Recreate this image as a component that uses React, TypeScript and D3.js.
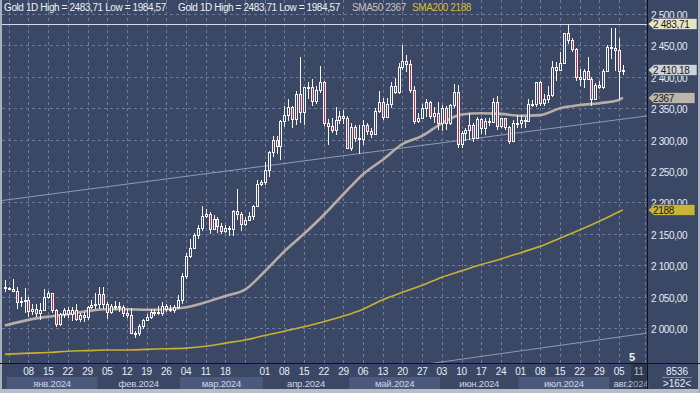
import React from "react";
import * as d3 from "d3";

// ---------- DATA ----------
const firstBar = "2023-12-29";
const lastBar = "2024-08-06";

const opens = [
  2065, 2063, 2062, 2059, 2042, 2043, 2045, 2027, 2030, 2024, 2029, 2049, 2055, 2028, 2006, 2023, 2029, 2022, 2029, 2014, 2020, 2018, 2033, 2037,
  2039, 2054, 2039, 2025, 2035, 2035, 2034, 2024, 2020, 1992, 1992, 2004, 2013, 2018, 2025, 2025, 2024, 2035, 2031, 2029, 2034,
  2044, 2083, 2115, 2128, 2148, 2160, 2179, 2182, 2158, 2174, 2162, 2155, 2160, 2157, 2186, 2181, 2165, 2172, 2179, 2194, 2230,
  2233, 2251, 2280, 2300, 2290, 2330, 2339, 2352, 2333, 2373, 2344, 2383, 2383, 2361, 2379, 2392, 2327, 2322, 2316, 2332, 2337, 2335,
  2286, 2320, 2303, 2301, 2323, 2314, 2309, 2346, 2360, 2336, 2357, 2385, 2376, 2415, 2425, 2420, 2379, 2329, 2334, 2350, 2360, 2338, 2343,
  2327, 2350, 2327, 2355, 2376, 2293, 2311, 2316, 2324, 2303, 2333, 2319, 2329, 2328, 2360, 2322, 2334, 2320, 2298, 2327,
  2326, 2332, 2330, 2356, 2356, 2392, 2359, 2364, 2371, 2415, 2411, 2422, 2469, 2459, 2445, 2400, 2396, 2409, 2397, 2364, 2387, 2384, 2410,
  2447, 2446, 2443, 2409,
];
const highs = [
  2077, 2066, 2078, 2065, 2050, 2064, 2049, 2038, 2038, 2040, 2062, 2059, 2056, 2031, 2024, 2032, 2033, 2034, 2038, 2024, 2025, 2035, 2044, 2055,
  2065, 2066, 2041, 2039, 2043, 2041, 2037, 2031, 2032, 1996, 2006, 2015, 2023, 2031, 2030, 2035, 2041, 2038, 2037, 2036, 2052,
  2088, 2119, 2141, 2152, 2164, 2195, 2189, 2185, 2180, 2176, 2167, 2164, 2163, 2188, 2222, 2184, 2176, 2184, 2196, 2236, 2236,
  2265, 2282, 2305, 2305, 2331, 2354, 2365, 2354, 2378, 2431, 2384, 2392, 2396, 2385, 2417, 2394, 2333, 2335, 2352, 2345, 2347, 2337,
  2326, 2324, 2323, 2331, 2326, 2318, 2351, 2378, 2367, 2366, 2391, 2398, 2422, 2450, 2435, 2427, 2385, 2343, 2357, 2364, 2362, 2352, 2360,
  2355, 2353, 2356, 2388, 2387, 2313, 2319, 2342, 2327, 2336, 2335, 2334, 2334, 2366, 2369, 2335, 2335, 2322, 2331, 2339,
  2339, 2336, 2365, 2363, 2392, 2393, 2372, 2385, 2425, 2424, 2440, 2469, 2483.71, 2462, 2446, 2412, 2412, 2431, 2399, 2390, 2393, 2413,
  2451, 2477, 2477, 2461, 2419,
];
const lows = [
  2058, 2060, 2057, 2030, 2034, 2024, 2017, 2021, 2018, 2013, 2028, 2046, 2024, 2002, 2004, 2016, 2016, 2011, 2011, 2009, 2010, 2012, 2030, 2031,
  2031, 2031, 2015, 2022, 2029, 2026, 2018, 2016, 1990, 1984.57, 1988, 1999, 2012, 2014, 2019, 2020, 2019, 2025, 2025, 2024, 2031,
  2039, 2078, 2112, 2126, 2142, 2154, 2175, 2150, 2156, 2152, 2149, 2152, 2146, 2146, 2172, 2155, 2162, 2170, 2172, 2193, 2226,
  2228, 2240, 2272, 2277, 2268, 2320, 2330, 2319, 2324, 2326, 2324, 2365, 2353, 2357, 2374, 2322, 2292, 2310, 2307, 2325, 2325, 2285,
  2282, 2296, 2277, 2291, 2307, 2303, 2307, 2342, 2332, 2336, 2351, 2373, 2373, 2411, 2407, 2375, 2325, 2326, 2333, 2336, 2333, 2326, 2315,
  2314, 2315, 2323, 2351, 2287, 2287, 2298, 2300, 2296, 2302, 2309, 2308, 2322, 2327, 2316, 2319, 2315, 2293, 2296, 2318,
  2318, 2319, 2328, 2352, 2352, 2353, 2353, 2358, 2368, 2394, 2410, 2421, 2452, 2440, 2393, 2385, 2382, 2398, 2353, 2364, 2380, 2380,
  2407, 2429, 2410, 2364, 2403,
];
const closes = [
  2063, 2062, 2059, 2042, 2043, 2045, 2027, 2030, 2024, 2029, 2049, 2055, 2028, 2006, 2023, 2029, 2022, 2029, 2014, 2020, 2018, 2033, 2037, 2039,
  2054, 2039, 2025, 2035, 2035, 2034, 2024, 2020, 1992, 1992, 2004, 2013, 2018, 2025, 2025, 2024, 2035, 2031, 2029, 2034, 2044,
  2083, 2115, 2128, 2148, 2160, 2179, 2182, 2158, 2174, 2162, 2155, 2160, 2157, 2186, 2181, 2165, 2172, 2179, 2194, 2230, 2233,
  2251, 2280, 2300, 2290, 2330, 2339, 2352, 2333, 2373, 2344, 2383, 2383, 2361, 2379, 2392, 2327, 2322, 2316, 2332, 2337, 2335, 2286,
  2320, 2303, 2301, 2323, 2314, 2309, 2346, 2360, 2336, 2357, 2385, 2376, 2415, 2425, 2420, 2379, 2329, 2334, 2350, 2360, 2338, 2343, 2327,
  2350, 2327, 2355, 2376, 2293, 2311, 2316, 2324, 2303, 2333, 2319, 2329, 2328, 2360, 2322, 2334, 2320, 2298, 2327, 2326,
  2332, 2330, 2356, 2356, 2392, 2359, 2364, 2371, 2415, 2411, 2422, 2469, 2459, 2445, 2400, 2396, 2409, 2397, 2364, 2387, 2384, 2410, 2447,
  2446, 2443, 2409, 2410.18,
];

const smaDates = [
  "2023-12-29", "2024-01-08", "2024-01-15", "2024-01-22", "2024-01-29", "2024-02-05", "2024-02-12", "2024-02-19", "2024-02-26",
  "2024-03-04", "2024-03-11", "2024-03-18", "2024-03-25", "2024-04-01", "2024-04-08", "2024-04-15", "2024-04-22", "2024-04-29",
  "2024-05-06", "2024-05-13", "2024-05-20", "2024-05-27", "2024-06-03", "2024-06-10", "2024-06-17", "2024-06-24", "2024-07-01",
  "2024-07-08", "2024-07-15", "2024-07-22", "2024-07-29", "2024-08-05", "2024-08-06",
];
const sma50Values = [
  2004, 2013, 2018, 2022, 2027, 2030, 2030, 2029, 2030, 2033, 2041, 2051, 2061, 2090, 2122, 2150, 2180, 2213, 2245, 2268, 2293,
  2306, 2326, 2340, 2342, 2341, 2338, 2339, 2350, 2355, 2358, 2363, 2367,
];
const sma200Values = [
  1958, 1960, 1961, 1963, 1964, 1965, 1965, 1966, 1967, 1968, 1971, 1976, 1981, 1988, 1995, 2002, 2010, 2019, 2030, 2045, 2057,
  2068, 2081, 2091, 2101, 2110, 2120, 2130, 2143, 2156, 2170, 2185, 2188,
];

const yTicks = [2000, 2050, 2100, 2150, 2200, 2250, 2300, 2350, 2400, 2450, 2500];
const dayTickDates = [
  "2024-01-08", "2024-01-15", "2024-01-22", "2024-01-29", "2024-02-05", "2024-02-12", "2024-02-19", "2024-02-26",
  "2024-03-04", "2024-03-11", "2024-03-18", "2024-04-01", "2024-04-08", "2024-04-15", "2024-04-22", "2024-04-29",
  "2024-05-06", "2024-05-13", "2024-05-20", "2024-05-27", "2024-06-03", "2024-06-10", "2024-06-17", "2024-06-24",
  "2024-07-01", "2024-07-08", "2024-07-15", "2024-07-22", "2024-07-29", "2024-08-05",
];
const monthLabels = ["янв.2024", "фев.2024", "мар.2024", "апр.2024", "май.2024", "июн.2024", "июл.2024", "авг.2024"];
const monthStarts = ["2024-01-01", "2024-02-01", "2024-03-01", "2024-04-01", "2024-05-01", "2024-06-01", "2024-07-01", "2024-08-01"];
const monthEnds = ["2024-01-31", "2024-02-29", "2024-03-29", "2024-04-30", "2024-05-31", "2024-06-28", "2024-07-31", "2024-08-09"];

const highValue = 2483.71;
const lowValue = 1984.57;
const lastPrice = 2410.18;
const sma50Last = 2367;
const sma200Last = 2188;
// channel lines: [date, price] pairs
const channelUpper = [["2023-12-27", 2202], ["2024-08-12", 2336]];
const channelLower = [["2024-07-08", 1968], ["2024-08-12", 1990]];

// ---------- HELPERS ----------
const parse = (s: string) => new Date(s + "T00:00:00Z");
const BASE = Date.UTC(2024, 0, 1);
function dayIndex(s: string): number {
  const days = Math.round((parse(s).getTime() - BASE) / 86400000);
  const weeks = Math.floor(days / 7);
  const rem = days - weeks * 7;
  return weeks * 5 + Math.min(rem, 5);
}

const tradingDays = d3.utcDay
  .range(parse(firstBar), d3.utcDay.offset(parse(lastBar), 1))
  .filter((d) => d.getUTCDay() !== 0 && d.getUTCDay() !== 6)
  .map((d) => d3.utcFormat("%Y-%m-%d")(d));

const loc = d3.formatLocale({ decimal: ",", thousands: "\u00a0", grouping: [3], currency: ["", ""] });
const fmt2 = loc.format(",.2f");

// ---------- LAYOUT ----------
const W = 700, H = 393;
const PL = 2, PR = 647, PT = 0, PB = 363;
const x = d3.scaleLinear().domain([0, 155]).range([8.8, 619]);
const y = d3.scaleLinear().domain([1944.3, 2522.3]).range([PB, PT]);

const BG = "#3a4866";
const FONT = "'Liberation Sans', Arial, sans-serif";

export default function App() {
  const bars = tradingDays.map((d, i) => ({
    i: dayIndex(d), o: opens[i], h: highs[i], l: lows[i], c: closes[i],
  }));
  const mondays = d3.utcMonday
    .range(parse("2024-01-01"), parse("2024-08-07"))
    .map((d) => d3.utcFormat("%Y-%m-%d")(d));

  const smaLine = d3.line<number>()
    .x((_, k) => x(dayIndex(smaDates[k])))
    .y((v) => y(v))
    .curve(d3.curveMonotoneX);
  const chan = (pts: any[]) => {
    const x0 = x(dayIndex(pts[0][0])), x1 = x(dayIndex(pts[1][0]));
    const y0 = y(pts[0][1]), y1 = y(pts[1][1]);
    const s = (y1 - y0) / (x1 - x0);
    // extend through the plot width
    return `M${PL - 10},${y0 + s * (PL - 10 - x0)}L${PR + 10},${y0 + s * (PR + 10 - x0)}`;
  };

  const px = (v: number) => Math.round(v) + 0.5;

  const tag = (v: number, label: string, fill: string, right = 697) => {
    const cy = Math.round(y(v));
    const pts = [[648, cy], [654, cy - 5.5], [right, cy - 5.5], [right, cy + 5.5], [654, cy + 5.5]];
    return (
      <g key={label}>
        <polygon points={pts.map((p) => p.join(",")).join(" ")} fill={fill} stroke="#2a3348" strokeWidth={0.5} />
        <text x={653} y={cy + 3.6} fontSize={10} fill="#1a1a1a" letterSpacing={-0.3}>{label}</text>
      </g>
    );
  };

  return (
    <div style={{ position: "fixed", left: 0, top: 0 }}>
      <svg width={W} height={H} style={{ display: "block", fontFamily: FONT }}>
        <defs>
          <clipPath id="plot"><rect x={PL} y={PT} width={PR - PL} height={PB - PT} /></clipPath>
        </defs>
        <rect x={0} y={0} width={W} height={H} fill={BG} />
        {/* outer frame */}
        <rect x={0} y={0} width={2} height={H} fill="#a8b0c0" />
        <rect x={0} y={389} width={W} height={4} fill="#b8bec8" />
        <rect x={698} y={0} width={2} height={H} fill="#a8b0c0" />

        {/* grid */}
        <g stroke="#6b7a9a" strokeWidth={1} strokeDasharray="3,3">
          {yTicks.map((t) => (
            <line key={t} x1={PL} x2={PR} y1={px(y(t))} y2={px(y(t))} />
          ))}
          {mondays.map((m) => (
            <line key={m} x1={px(x(dayIndex(m)))} x2={px(x(dayIndex(m)))} y1={PT} y2={PB} />
          ))}
          <line x1={px(x(161.5))} x2={px(x(161.5))} y1={PT} y2={PB} />
        </g>

        <g clipPath="url(#plot)">
          {/* channel lines */}
          <path d={chan(channelUpper)} stroke="#8f9ab4" strokeWidth={1} fill="none" />
          <path d={chan(channelLower)} stroke="#8f9ab4" strokeWidth={1} fill="none" />
          {/* high line */}
          <line x1={PL} x2={PR} y1={px(y(highValue))} y2={px(y(highValue))} stroke="#d6dae6" strokeWidth={1} />
          {/* SMA200 */}
          <path d={smaLine(sma200Values) || ""} stroke="#c9b032" strokeWidth={1.6} fill="none" />
          {/* SMA50 */}
          <path d={smaLine(sma50Values) || ""} stroke="#b5ada6" strokeWidth={2.6} fill="none" />
          {/* candles */}
          {bars.map((b, k) => {
            const cx = Math.round(x(b.i));
            const yo = Math.round(y(b.o)), yc = Math.round(y(b.c));
            const top = Math.min(yo, yc), hgt = Math.max(1, Math.abs(yo - yc));
            const bear = b.c < b.o;
            return (
              <g key={k}>
                <line x1={cx + 0.5} x2={cx + 0.5} y1={Math.round(y(b.h))} y2={Math.round(y(b.l))} stroke="#f4f4f4" strokeWidth={1} />
                <rect x={cx - 0.5} y={top + 0.5} width={2} height={hgt} fill={bear ? "#b8304e" : BG} stroke="#f4f4f4" strokeWidth={1} shapeRendering="crispEdges" />
              </g>
            );
          })}
        </g>

        {/* legend */}
        <g fontSize={10} letterSpacing={-0.4}>
          <text x={4} y={11} fill="#eef0f6">{`Gold 1D High = ${String(highValue).replace(".", ",")} Low = ${String(lowValue).replace(".", ",")}`}</text>
          <text x={178} y={11} fill="#eef0f6">{`Gold 1D High = ${String(highValue).replace(".", ",")} Low = ${String(lowValue).replace(".", ",")}`}</text>
          <text x={352} y={11} fill="#c9c2ba">{`SMA50 ${sma50Last}`}</text>
          <text x={412} y={11} fill="#d8bc3a">{`SMA200 ${sma200Last}`}</text>
        </g>

        {/* right axis */}
        <rect x={PR} y={0} width={1} height={PB} fill="#0e121c" />
        <g fontSize={10} fill="#e6eaf2" letterSpacing={-0.35}>
          {yTicks.map((t) => (
            <text key={t} x={651} y={Math.round(y(t)) + 4.5}>{fmt2(t)}</text>
          ))}
        </g>
        {tag(highValue, fmt2(highValue), "#e6e4c6")}
        {tag(lastPrice, fmt2(lastPrice), "#cfd3dc")}
        {tag(sma50Last, String(sma50Last), "#bdb5ac", 695)}
        {tag(sma200Last, String(sma200Last), "#c8b43a", 695)}

        {/* bottom axis */}
        <rect x={0} y={PB} width={W} height={1} fill="#0e121c" />
        {monthLabels.map((m, k) => {
          const x0 = x(dayIndex(monthStarts[k])) - 2;
          const x1 = Math.min(x(dayIndex(monthEnds[k])) + 2, PR);
          return (
            <g key={m}>
              {k % 2 === 0 && <rect x={x0} y={377} width={x1 - x0} height={12} fill="#4b5a7c" />}
              <text x={(x0 + x1) / 2 + (k === 7 ? 8 : 0)} y={387} fontSize={9.5} fill="#d0d6e2" textAnchor="middle" letterSpacing={-0.2}>{m}</text>
            </g>
          );
        })}
        <g fontSize={10} fill="#e8ecf4" textAnchor="middle" letterSpacing={-0.3}>
          {dayTickDates.map((d) => (
            <text key={d} x={x(dayIndex(d))} y={375}>{d.slice(8)}</text>
          ))}
          <text x={x(dayIndex("2024-08-11"))} y={375}>11</text>
        </g>
        <rect x={631} y={PB + 1} width={PR - 631} height={25} fill="#000" opacity={0.22} />
        <text x={632} y={361} fontSize={11} fontWeight="bold" fill="#f2f2f2" textAnchor="middle">5</text>
        <rect x={PR} y={PB} width={1} height={26} fill="#0e121c" />
        <text x={677} y={374.5} fontSize={10} fill="#e8ecf4" textAnchor="middle">8536</text>
        <line x1={662} x2={692} y1={377.5} y2={377.5} stroke="#7d88a0" />
        <text x={677} y={386.5} fontSize={10} fill="#e8ecf4" textAnchor="middle">&gt;162&lt;</text>
      </svg>
    </div>
  );
}
